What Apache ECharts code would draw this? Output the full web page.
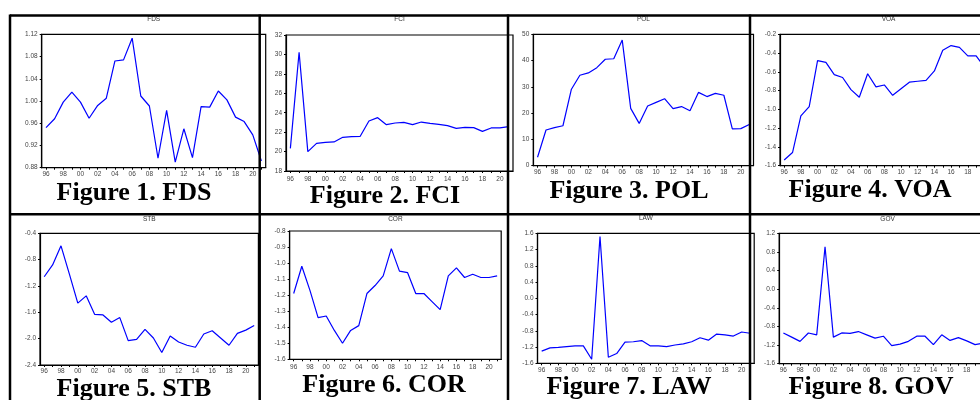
<!DOCTYPE html>
<html>
<head>
<meta charset="utf-8">
<script src="https://cdn.jsdelivr.net/npm/echarts@6/dist/echarts.min.js"></script>
<style>
html,body{margin:0;padding:0;background:#fff;overflow:hidden;width:980px;height:400px;}
#chart{width:1010px;height:400px;}
</style>
</head>
<body>
<div id="chart"></div>
<script>
// ---- data ----
const years = ['96','97','98','99','00','01','02','03','04','05','06','07','08','09','10','11','12','13','14','15','16','17','18','19','20','21'];
const fds = [0.952,0.968,0.998,1.016,0.998,0.969,0.992,1.005,1.072,1.074,1.113,1.009,0.991,0.897,0.983,0.890,0.950,0.898,0.990,0.989,1.018,1.002,0.971,0.963,0.939,0.892];
const fci = [20.33,30.22,19.99,20.85,20.95,20.99,21.47,21.53,21.57,23.15,23.49,22.77,22.94,23.01,22.77,23.04,22.90,22.80,22.67,22.39,22.49,22.46,22.08,22.43,22.43,22.56];
const pol = [3.2,13.6,14.5,15.2,29.1,34.4,35.3,37.3,40.5,40.7,47.8,21.8,16.1,22.7,24.1,25.5,21.7,22.5,20.9,27.9,26.3,27.5,26.8,14.0,14.1,15.7];
const voa = [-1.54,-1.46,-1.07,-0.97,-0.48,-0.50,-0.63,-0.66,-0.79,-0.87,-0.62,-0.76,-0.74,-0.85,-0.78,-0.71,-0.70,-0.69,-0.59,-0.37,-0.32,-0.34,-0.43,-0.43,-0.55,-0.50];
const stb = [-1.06,-0.88,-0.59,-1.02,-1.46,-1.35,-1.63,-1.64,-1.75,-1.68,-2.03,-2.01,-1.86,-1.99,-2.21,-1.96,-2.05,-2.10,-2.13,-1.93,-1.88,-1.99,-2.10,-1.92,-1.87,-1.80];
const cor = [-1.19,-1.02,-1.17,-1.34,-1.33,-1.42,-1.50,-1.42,-1.39,-1.19,-1.14,-1.08,-0.91,-1.05,-1.06,-1.19,-1.19,-1.24,-1.29,-1.08,-1.03,-1.09,-1.07,-1.09,-1.09,-1.08];
const law = [-1.30,-1.22,-1.21,-1.19,-1.17,-1.17,-1.50,1.52,-1.45,-1.36,-1.08,-1.07,-1.04,-1.17,-1.17,-1.19,-1.15,-1.12,-1.07,-0.97,-1.03,-0.88,-0.90,-0.93,-0.83,-0.86];
const gov = [-0.94,-1.03,-1.12,-0.94,-0.98,0.91,-1.03,-0.94,-0.95,-0.91,-0.98,-1.05,-1.01,-1.21,-1.18,-1.12,-1.01,-1.01,-1.19,-0.98,-1.10,-1.04,-1.11,-1.19,-1.16,-1.10];
const names = ['FDS','FCI','POL','VOA','STB','COR','LAW','GOV'];
const captions = ['Figure 1. FDS','Figure 2. FCI','Figure 3. POL','Figure 4. VOA','Figure 5. STB','Figure 6. COR','Figure 7. LAW','Figure 8. GOV'];
const seriesData = [fds, fci, pol, voa, stb, cor, law, gov];
const yMin = [0.88, 18, 0, -1.6, -2.4, -1.6, -1.6, -1.6];
const yMax = [1.12, 32, 50, -0.2, -0.4, -0.8, 1.6, 1.2];
const yStep = [0.04, 2, 10, 0.2, 0.4, 0.1, 0.4, 0.4];
const yDec = [2, 0, 0, 1, 1, 1, 1, 1];

// ---- layout ----
const grids = [
  {left:41.7, top:34.3, width:224, height:133.4, lm:3, ty:19},
  {left:286, top:35, width:227, height:136, lm:4.5, ty:19},
  {left:533.3, top:34.3, width:220.2, height:131.4, lm:3.5, ty:19},
  {left:780, top:34.3, width:217, height:131.4, lm:3, ty:19},
  {left:40, top:233.3, width:218.4, height:131.7, lm:3, ty:219},
  {left:289.6, top:231, width:211.6, height:128.3, lm:4, ty:219},
  {left:537.5, top:233.3, width:216.7, height:130, lm:3, ty:218.5},
  {left:779.2, top:233.3, width:216.7, height:130.4, lm:3.5, ty:219}
];
const capPos = [[134,193],[385,196],[629,191],[870,190],[134,389],[384,385],[629,387.5],[871,387.5]];

const option = {
  animation:false,
  backgroundColor:'#fff',
  grid: grids.map(g => ({left:g.left, top:g.top, width:g.width, height:g.height, show:true, borderColor:'#000', borderWidth:1.2, backgroundColor:'transparent'})),
  xAxis: grids.map((g,i) => ({
    type:'category', gridIndex:i, data:years, boundaryGap:true,
    axisLine:{show:true, onZero:false, lineStyle:{color:'#000', width:1.2}},
    axisTick:{show:true, interval:0, alignWithLabel:true, length:2, lineStyle:{color:'#000'}},
    axisLabel:{interval:1, margin:g.lm, fontSize:6.5, color:'#444', fontFamily:'Liberation Sans'},
    splitLine:{show:false}
  })),
  yAxis: grids.map((g,i) => ({
    type:'value', gridIndex:i, min:yMin[i], max:yMax[i], interval:yStep[i],
    axisLine:{show:true, onZero:false, lineStyle:{color:'#000', width:1.2}},
    axisTick:{show:true, length:2, lineStyle:{color:'#000'}},
    axisLabel:{margin:4, fontSize:6.5, color:'#444', fontFamily:'Liberation Sans',
      formatter: v => Number(v).toFixed(yDec[i])},
    splitLine:{show:false}
  })),
  series: seriesData.map((d,i) => ({
    type:'line', xAxisIndex:i, yAxisIndex:i, data:d, symbol:'none', clip:false,
    lineStyle:{color:'#0000ff', width:1.2}
  })),
  graphic: []
};

// chart titles
grids.forEach((g,i) => {
  option.graphic.push({type:'text', z:50, style:{text:names[i], x:g.left + g.width/2, y:g.ty, align:'center', verticalAlign:'middle', font:'6.5px "Liberation Sans"', fill:'#333'}});
});
// captions
captions.forEach((c,i) => {
  option.graphic.push({type:'text', z:50, style:{text:c, x:capPos[i][0], y:capPos[i][1], align:'center', verticalAlign:'middle', font:'bold 26px "Liberation Serif"', fill:'#000'}});
});
// table lines
const lines = [
  [10,15.5,1010,15.5],[10,214.3,1010,214.3],
  [10,14.5,10,400],[259.7,14.5,259.7,400],[508,14.5,508,400],[750,14.5,750,400]
];
lines.forEach(l => {
  option.graphic.push({type:'line', z:100, shape:{x1:l[0], y1:l[1], x2:l[2], y2:l[3]}, style:{stroke:'#000', lineWidth:2.5}});
});

const chart = echarts.init(document.getElementById('chart'), null, {renderer:'canvas'});
chart.setOption(option);
</script>
</body>
</html>
